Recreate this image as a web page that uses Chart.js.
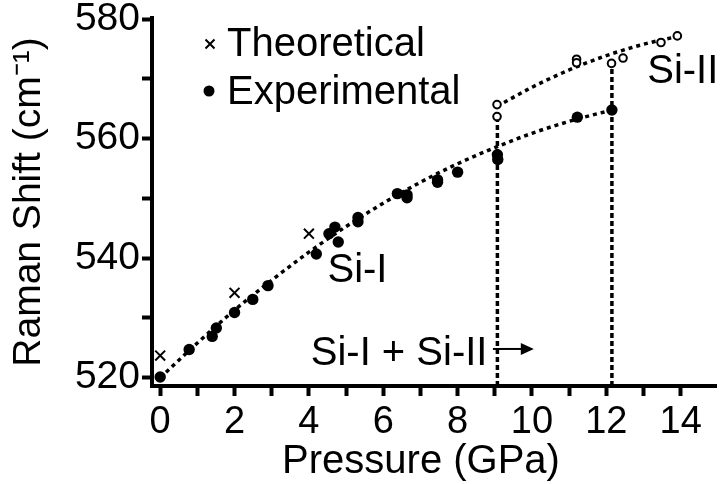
<!DOCTYPE html>
<html>
<head>
<meta charset="utf-8">
<script src="https://cdn.jsdelivr.net/npm/chart.js@4.4.0/dist/chart.umd.min.js"></script>
<style>
  html, body { margin: 0; padding: 0; background: #fff; }
</style>
</head>
<body>
<canvas id="raman-chart" width="725" height="484"></canvas>
<script>
// Raman shift of silicon vs. pressure
const theoryP = [0, 2, 4];
const theoryShift = [523.7, 534.2, 544.1];

// Si-I (filled points)
const siIP = [0, 0.78, 1.40, 1.51, 2.0, 2.49, 2.90, 4.20, 4.54, 4.70, 4.79, 5.32, 5.32, 6.38, 6.64, 6.64, 7.46, 7.46, 8.0, 9.07, 9.08, 11.22, 12.15];
const siIShift = [520.1, 524.7, 526.9, 528.3, 530.9, 533.1, 535.4, 540.7, 544.1, 545.2, 542.7, 546.1, 546.8, 550.8, 550.6, 550.1, 553.1, 552.7, 554.4, 557.3, 556.5, 563.6, 564.8];

// Si-II (open points)
const siIIP = [9.06, 9.06, 11.2, 11.2, 12.14, 12.45, 13.47, 13.91];
const siIIShift = [565.7, 563.7, 573.3, 572.7, 572.6, 573.5, 576.1, 577.2];

// dashed trend lines
const fitIP = [0, 1, 2, 3, 4, 5, 6, 7, 8, 9, 10, 11, 12.15];
const fitIShift = [520, 525.8, 531.3, 536.3, 541.0, 545.3, 549.2, 552.7, 555.8, 558.5, 560.9, 562.9, 564.8];
const fitIIP = [9.06, 10, 11, 12, 13, 13.91];
const fitIIShift = [565.4, 568.6, 571.5, 573.9, 575.8, 577.1];

// phase boundaries (vertical dotted lines)
const boundaryP = [9.07, 12.15];
const boundaryTop = [563.6, 572.6];

const xTicks = [0, 1, 2, 3, 4, 5, 6, 7, 8, 9, 10, 11, 12, 13, 14];
const yTicks = [520, 530, 540, 550, 560, 570, 580];

const FONT = '"Liberation Sans", Arial, Helvetica, sans-serif';

function pts(xs, ys) {
  return xs.map((v, i) => ({ x: v, y: ys[i] }));
}

const dashed = {
  showLine: true,
  pointRadius: 0,
  borderColor: '#000',
  borderWidth: 3.5,
  borderDash: [4, 4],
  order: 2
};

const datasets = [
  { label: 'Theoretical', data: pts(theoryP, theoryShift), pointStyle: 'crossRot',
    pointRadius: 7, pointBorderWidth: 2, borderColor: '#000', backgroundColor: '#000', order: 0 },
  { label: 'Experimental Si-I', data: pts(siIP, siIShift), pointStyle: 'circle',
    pointRadius: 5.7, pointBorderWidth: 0, borderColor: '#000', backgroundColor: '#000', order: 0 },
  { label: 'Experimental Si-II', data: pts(siIIP, siIIShift), pointStyle: 'circle',
    pointRadius: 3.8, pointBorderWidth: 2, borderColor: '#000', backgroundColor: '#fff', order: 0 },
  Object.assign({ label: 'Si-I trend', data: pts(fitIP, fitIShift), cubicInterpolationMode: 'monotone' }, dashed),
  Object.assign({ label: 'Si-II trend', data: pts(fitIIP, fitIIShift), cubicInterpolationMode: 'monotone' }, dashed)
];
boundaryP.forEach((p, i) => {
  datasets.push(Object.assign({ label: 'boundary ' + p, data: [{ x: p, y: 518.6 }, { x: p, y: boundaryTop[i] }] },
    dashed, { borderDash: [5, 3] }));
});

// text placed in data coordinates
const phaseLabels = [
  { text: 'Si-I', p: 4.5, shift: 536.0 },
  { text: 'Si-II', p: 13.1, shift: 569.4 },
  { text: 'Si-I + Si-II', p: 4.05, shift: 522.1 }
];
const arrow = { from: 8.95, to: 10.05, shift: 524.8 };

const labelPlugin = {
  id: 'ramanLabels',
  afterDraw(chart) {
    const ctx = chart.ctx;
    const xs = chart.scales.x, ys = chart.scales.y;
    const area = chart.chartArea;
    ctx.save();
    ctx.fillStyle = '#000';
    ctx.strokeStyle = '#000';
    ctx.font = '40px ' + FONT;
    ctx.textAlign = 'left';
    ctx.textBaseline = 'alphabetic';

    // legend
    const lx = area.left + 58, ly = area.top + 26;
    ctx.lineWidth = 2;
    ctx.beginPath();
    ctx.moveTo(lx - 4.5, ly - 4.5); ctx.lineTo(lx + 4.5, ly + 4.5);
    ctx.moveTo(lx + 4.5, ly - 4.5); ctx.lineTo(lx - 4.5, ly + 4.5);
    ctx.stroke();
    ctx.beginPath();
    ctx.arc(lx - 1, ly + 47, 5.5, 0, Math.PI * 2);
    ctx.fill();
    ctx.fillText('Theoretical', lx + 17, ly + 12);
    ctx.fillText('Experimental', lx + 17, ly + 60);

    phaseLabels.forEach(l => {
      ctx.fillText(l.text, xs.getPixelForValue(l.p), ys.getPixelForValue(l.shift));
    });

    // arrow after "Si-I + Si-II"
    const ax0 = xs.getPixelForValue(arrow.from), ax1 = xs.getPixelForValue(arrow.to);
    const ay = ys.getPixelForValue(arrow.shift);
    ctx.lineWidth = 2;
    ctx.beginPath();
    ctx.moveTo(ax0, ay); ctx.lineTo(ax1 - 10, ay);
    ctx.stroke();
    ctx.beginPath();
    ctx.moveTo(ax1, ay); ctx.lineTo(ax1 - 13, ay - 6); ctx.lineTo(ax1 - 13, ay + 6);
    ctx.closePath();
    ctx.fill();

    // x axis title
    ctx.textAlign = 'center';
    ctx.fillText('Pressure (GPa)', 421, 473);
    ctx.restore();
  }
};

new Chart(document.getElementById('raman-chart'), {
  type: 'scatter',
  data: { datasets: datasets },
  options: {
    responsive: false,
    animation: false,
    layout: { padding: { top: 18, left: 0, right: 0, bottom: 0 } },
    plugins: { legend: { display: false }, tooltip: { enabled: false } },
    scales: {
      x: {
        type: 'linear',
        min: -0.22,
        max: 14.95,
        afterBuildTicks: (scale) => { scale.ticks = xTicks.map(v => ({ value: v })); },
        afterFit: (scale) => {
          scale.height = 98;
          scale.paddingLeft = 0;
          scale.paddingRight = 0;
        },
        ticks: {
          color: '#000',
          font: { family: FONT, size: 38 },
          padding: 4,
          maxRotation: 0,
          autoSkip: false,
          callback: (v) => (v % 2 === 0 ? String(v) : '')
        },
        grid: { drawOnChartArea: false, drawTicks: true, tickLength: 10, tickWidth: 4, tickColor: '#000' },
        border: { display: true, width: 4, color: '#000' }
      },
      y: {
        type: 'linear',
        min: 518.6,
        max: 580.2,
        afterBuildTicks: (scale) => { scale.ticks = yTicks.map(v => ({ value: v })); },
        afterFit: (scale) => {
          scale.width = 152;
          scale.paddingTop = 0;
          scale.paddingBottom = 0;
        },
        ticks: {
          color: '#000',
          font: { family: FONT, size: 39 },
          padding: 2,
          autoSkip: false,
          callback: (v) => (v % 20 === 0 ? String(v) : '')
        },
        grid: { drawOnChartArea: false, drawTicks: true, tickLength: 10, tickWidth: 4, tickColor: '#000' },
        border: { display: true, width: 4, color: '#000' },
        title: {
          display: true,
          text: 'Raman Shift (cm⁻¹)',
          color: '#000',
          font: { family: FONT, size: 39 },
          padding: { top: 6, bottom: 0 }
        }
      }
    }
  },
  plugins: [labelPlugin]
});
</script>
</body>
</html>
